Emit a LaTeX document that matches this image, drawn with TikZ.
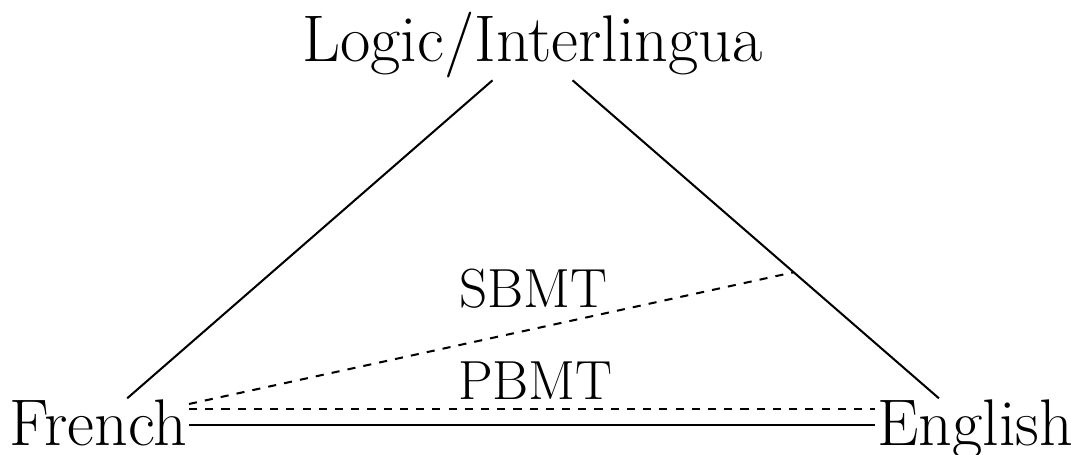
\documentclass[tikz,border=0pt]{standalone}
\usepackage{amssymb}
\usepackage{xcolor}
\usetikzlibrary{calc}

\begin{document}
\begin{tikzpicture}[x=0.013cm, y=0.013cm,
    lang/.style={inner sep=0.5pt, font=\fontsize{24.4}{30}\selectfont},
    method/.style={inner sep=0pt, anchor=base, font=\fontsize{20.4}{24}\selectfont},
    link/.style={line width=0.75pt}]
    % Frame
    \useasboundingbox (0,0) rectangle (1074,455);
    % Languages
    \node[lang, anchor=base] (logic) at (532.5,393) {Logic/Interlingua};
    \node[lang, anchor=base west] (french) at (8,9) {French};
    \node[lang, anchor=base east] (english) at (1075,9) {English};
    % Sides of the triangle
    \draw[link] (logic) -- (french);
    \draw[link] (logic) -- (english);
    \draw[link] (french.east |- 0,30) -- (english.west |- 0,30);
    % Statistical approaches
    \coordinate (sbmtend) at ($(logic)!0.59!(english)$);
    \draw[link, dashed] (french.east |- 0,46) -- (english.west |- 0,46);
    \draw[link, dashed] (french.east |- 0,51) -- (sbmtend);
    \node[method] (pbmt) at (535.5,55) {PBMT};
    \node[method] (sbmt) at (533.5,147) {SBMT};
\end{tikzpicture}
\end{document}
